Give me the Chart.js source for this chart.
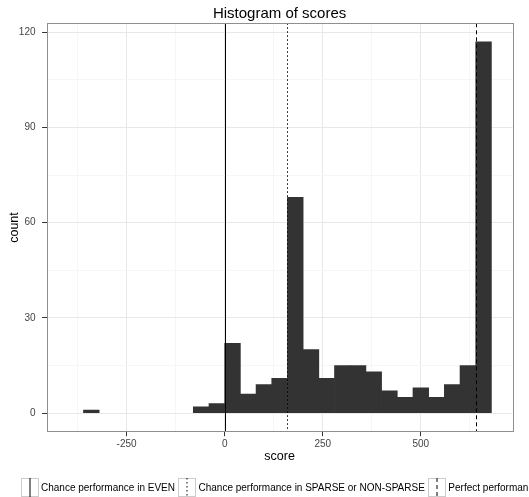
<!DOCTYPE html>
<html><head><meta charset="utf-8">
<script src="https://cdn.jsdelivr.net/npm/chart.js@4.4.1/dist/chart.umd.min.js"></script>
<style>
html,body{margin:0;padding:0;background:#fff;overflow:hidden;width:529px;height:497px;}
#wrap{position:relative;width:529px;height:497px;overflow:hidden;}
canvas{position:absolute;left:0;top:0;}
#title{position:absolute;left:46.6px;width:466px;top:4.6px;text-align:center;font-family:"Liberation Sans",Arial,sans-serif;font-size:15px;line-height:15px;color:#000;white-space:nowrap;}
#legend{position:absolute;left:21px;top:478px;display:flex;align-items:center;white-space:nowrap;font-family:"Liberation Sans",Arial,sans-serif;font-size:10px;color:#000;}
.item{display:flex;align-items:center;margin-right:3.5px;flex:none;}
.item svg{display:block;}
.item span{margin-left:2px;}
</style></head><body>
<div id="wrap"><canvas id="c" width="529" height="497"></canvas><div id="title">Histogram of scores</div><div id="legend"></div></div>
<script>
// ---- data ----
const binStarts = [-360, -80, -40, 0, 40, 80, 120, 160, 200, 240, 280, 320, 360, 400, 440, 480, 520, 560, 600, 640];
const counts    = [1, 2, 3, 22, 6, 9, 11, 68, 20, 11, 15, 15, 13, 7, 5, 8, 5, 9, 15, 117];
const binWidth = 40;
const xTickLabels = [-250, 0, 250, 500];
const yTickLabels = [0, 30, 60, 90, 120];
const refLabels = ['Chance performance in EVEN', 'Chance performance in SPARSE or NON-SPARSE', 'Perfect performance'];
const refValues = [0, 160, 640];

// ---- styles ----
const FONT = '"Liberation Sans", Arial, Helvetica, sans-serif';
const dashStyles = [[], [1.5, 2.5], [4, 3]];
const svgDash = ['', '1.5,2.5', '4,3'];
const MAJOR = '#e8e8e8', MINOR = '#f6f6f6';

const panelPlugin = {
  id: 'panel',
  afterDatasetsDraw(chart) {
    const {ctx, chartArea: a, scales: {x}} = chart;
    ctx.save();
    refValues.forEach((v, i) => {
      const px = Math.round(x.getPixelForValue(v)) + 0.5;
      ctx.beginPath();
      ctx.setLineDash(dashStyles[i]);
      ctx.strokeStyle = '#000';
      ctx.lineWidth = 1;
      ctx.moveTo(px, a.top);
      ctx.lineTo(px, a.bottom);
      ctx.stroke();
    });
    ctx.setLineDash([]);
    ctx.strokeStyle = '#8f8f8f';
    ctx.lineWidth = 1;
    ctx.strokeRect(Math.round(a.left) + 0.5, Math.round(a.top) + 0.5, Math.round(a.right - a.left), Math.round(a.bottom - a.top));
    ctx.restore();
  }
};

new Chart(document.getElementById('c'), {
  type: 'bar',
  data: {
    datasets: [{
      data: binStarts.map((s, i) => ({x: s + binWidth / 2, y: counts[i]})),
      backgroundColor: '#333333',
      borderWidth: 0,
      barPercentage: 1,
      categoryPercentage: 1
    }]
  },
  options: {
    responsive: false,
    animation: false,
    devicePixelRatio: 1,
    layout: {padding: {left: 0, right: 16.4, top: 23.3, bottom: 0}},
    plugins: {
      legend: {display: false},
      tooltip: {enabled: false},
      title: {display: false}
    },
    scales: {
      x: {
        type: 'linear', min: -454, max: 734, offset: false,
        ticks: {
          stepSize: 125, includeBounds: false, autoSkip: false, maxRotation: 0, minRotation: 0,
          padding: 2, color: '#444', font: {family: FONT, size: 10},
          callback: v => xTickLabels.includes(v) ? String(v) : ''
        },
        grid: {
          offset: false, lineWidth: 1, tickLength: 4.5, tickWidth: 1,
          color: c => (c.tick && xTickLabels.includes(c.tick.value)) ? MAJOR : MINOR,
          tickColor: c => (c.tick && xTickLabels.includes(c.tick.value)) ? '#333' : 'rgba(0,0,0,0)'
        },
        border: {display: false},
        title: {display: true, text: 'score', color: '#000', font: {family: FONT, size: 12.5}, padding: {top: 0, bottom: 33}},
        afterFit: s => { s.height = 65.3; }
      },
      y: {
        type: 'linear', min: -5.85, max: 122.85,
        ticks: {
          stepSize: 15, includeBounds: false, autoSkip: false,
          padding: 6.6, color: '#444', font: {family: FONT, size: 10},
          callback: v => yTickLabels.includes(v) ? String(v) : ''
        },
        grid: {
          lineWidth: 1, tickLength: 4.5, tickWidth: 1,
          color: c => (c.tick && yTickLabels.includes(c.tick.value)) ? MAJOR : MINOR,
          tickColor: c => (c.tick && yTickLabels.includes(c.tick.value)) ? '#333' : 'rgba(0,0,0,0)'
        },
        border: {display: false},
        title: {display: true, text: 'count', color: '#000', font: {family: FONT, size: 12.5}, padding: {top: 7, bottom: 0}},
        afterFit: s => { s.width = 46.6; }
      }
    }
  },
  plugins: [panelPlugin]
});

// ---- legend (HTML) ----
const lg = document.getElementById('legend');
refLabels.forEach((t, i) => {
  const it = document.createElement('div');
  it.className = 'item';
  it.innerHTML = '<svg width="18" height="19" xmlns="http://www.w3.org/2000/svg">' +
    '<rect x="0.5" y="0.5" width="17" height="18" fill="#fff" stroke="#cccccc" stroke-width="1"/>' +
    '<line x1="9" y1="0" x2="9" y2="19" stroke="#000" stroke-width="1"' + (svgDash[i] ? ' stroke-dasharray="' + svgDash[i] + '"' : '') + '/></svg>' +
    '<span></span>';
  it.querySelector('span').textContent = t;
  lg.appendChild(it);
});
</script>
</body></html>
